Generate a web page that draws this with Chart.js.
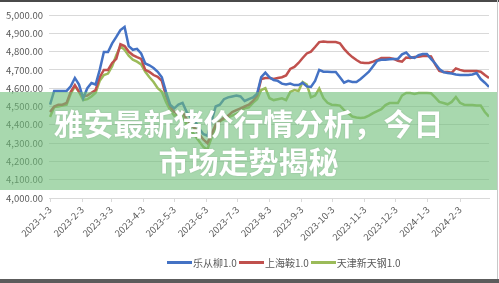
<!DOCTYPE html>
<html>
<head>
<meta charset="utf-8">
<script src="https://cdn.jsdelivr.net/npm/chart.js@4/dist/chart.umd.min.js"></script>
<style>
  html, body { margin: 0; padding: 0; background: #fff; }
  #wrap { position: relative; width: 499px; height: 283px; overflow: hidden; }
  #chart { position: absolute; left: 0; top: 0; }
  .frame-top { position: absolute; left: 0; top: 0; width: 499px; height: 2px; background: #4a4a4a; }
  .frame-bottom { position: absolute; left: 0; top: 279px; width: 499px; height: 4px; background: #5c5c5c; }
  .frame-right { position: absolute; left: 497px; top: 0; width: 1px; height: 283px; background: #c8c8c8; }
  #legend { position: absolute; left: 167px; top: 255px; height: 14px; display: flex; align-items: center;
    font: 10px "Noto Sans CJK SC", sans-serif; color: #595959; white-space: nowrap; }
  #legend .line { display: inline-block; width: 25px; height: 3px; margin-right: 1px; }
  #legend .txt { margin-right: 2px; }
  #banner { position: absolute; left: 0; top: 92px; width: 497px; height: 98px;
    background: rgba(110, 190, 120, 0.6); display: flex; flex-direction: column; align-items: center; justify-content: center;
    font: bold 30px "Noto Sans CJK SC", sans-serif; color: #fff; line-height: 38px; text-shadow: 0 0 2px rgba(0,0,0,0.15); }
</style>
</head>
<body>
<div id="wrap">
  <canvas id="chart" width="499" height="283"></canvas>
  <div id="legend"></div>
  <div id="banner"><div>雅安最新猪价行情分析，今日</div><div>市场走势揭秘</div></div>
  <div class="frame-top"></div>
  <div class="frame-right"></div>
  <div class="frame-bottom"></div>
</div>
<script>
// days counted from 2023-1-3
const days = [0,4,8,12,16,20,24,28,32,36,40,44,48,52,56,60,64,68,72,76,80,84,88,92,96,100,
  104,108,112,116,120,124,128,132,136,140,144,148,152,156,160,164,168,172,176,180,184,188,192,196,200,
  204,208,212,216,220,224,228,232,236,240,244,248,252,256,260,264,268,272,276,280,284,288,292,296,300,
  304,308,312,316,320,324,328,332,336,340,344,348,352,356,360,364,368,372,376,380,384,388,392,396,400,
  404,408,412,416,420,424];

const tickDays = [0,31,59,90,120,151,181,212,243,273,304,334,365,396];
const tickLabels = ['2023-1-3','2023-2-3','2023-3-3','2023-4-3','2023-5-3','2023-6-3','2023-7-3',
  '2023-8-3','2023-9-3','2023-10-3','2023-11-3','2023-12-3','2024-1-3','2024-2-3'];

const seriesNames = ['乐从柳1.0', '上海鞍1.0', '天津新天钢1.0'];

const lecong = [4510,4585,4585,4585,4585,4610,4656,4620,4545,4600,4628,4620,4700,4798,4798,4845,4880,4918,4935,4830,
  4810,4815,4790,4735,4725,4710,4690,4660,4580,4510,4490,4510,4520,4470,4440,4420,4380,4350,4340,4420,
  4500,4510,4540,4550,4555,4560,4555,4530,4540,4550,4570,4660,4685,4660,4645,4640,4625,4620,4625,4617,
  4617,4630,4610,4607,4640,4700,4690,4690,4689,4689,4660,4630,4640,4634,4634,4650,4670,4690,4720,4750,
  4755,4755,4758,4760,4760,4785,4795,4770,4765,4780,4787,4787,4760,4735,4705,4688,4683,4680,4675,4672,
  4672,4672,4675,4683,4650,4630,4607];

const shanghai = [4470,4500,4510,4510,4520,4580,4617,4580,4555,4560,4575,4590,4660,4700,4700,4738,4760,4840,4830,4800,
  4781,4770,4760,4700,4689,4672,4662,4640,4560,4500,4470,4460,4470,4430,4400,4380,4350,4320,4300,4350,
  4400,4420,4440,4450,4470,4480,4490,4500,4510,4530,4560,4650,4656,4656,4650,4656,4660,4670,4705,4716,
  4738,4765,4790,4800,4825,4852,4855,4852,4852,4852,4845,4815,4790,4770,4754,4740,4738,4738,4745,4754,
  4765,4765,4765,4760,4750,4745,4768,4765,4770,4772,4776,4776,4774,4730,4695,4689,4689,4685,4708,4700,
  4694,4694,4694,4694,4690,4672,4656];

const tianjin = [4443,4497,4500,4505,4510,4570,4610,4580,4535,4540,4555,4575,4640,4672,4680,4720,4780,4830,4810,4778,
  4756,4745,4730,4690,4660,4634,4600,4580,4525,4480,4450,4460,4450,4400,4370,4340,4310,4280,4265,4330,
  4390,4420,4430,4440,4450,4460,4470,4490,4495,4520,4540,4590,4600,4545,4535,4540,4545,4535,4580,4590,
  4585,4634,4620,4550,4560,4598,4546,4520,4510,4508,4505,4480,4464,4445,4440,4437,4440,4450,4464,4475,
  4485,4508,4519,4519,4519,4560,4574,4574,4568,4574,4574,4574,4572,4550,4525,4519,4512,4525,4552,4520,
  4510,4508,4508,4506,4505,4470,4445];

const colors = ['#4472C4', '#C0504D', '#9BBB59'];
const allSeries = [lecong, shanghai, tianjin];

const datasets = allSeries.map(function(vals, i) {
  return {
    label: seriesNames[i],
    data: vals.map(function(v, j) { return { x: days[j], y: v }; }),
    borderColor: colors[i],
    backgroundColor: colors[i],
    borderWidth: 2.5,
    pointRadius: 0,
    tension: 0
  };
});

const ctx = document.getElementById('chart').getContext('2d');
const chart = new Chart(ctx, {
  type: 'line',
  data: { datasets: datasets },
  options: {
    responsive: false,
    animation: false,
    layout: { padding: { top: 15, right: 10, left: 0, bottom: 0 } },
    plugins: { legend: { display: false }, tooltip: { enabled: false } },
    scales: {
      x: {
        type: 'linear',
        min: -1,
        max: 424,
        afterBuildTicks: function(scale) {
          scale.ticks = tickDays.map(function(d) { return { value: d }; });
        },
        afterFit: function(scale) { scale.height = 85; },
        ticks: {
          autoSkip: false,
          minRotation: 45,
          maxRotation: 45,
          padding: 2,
          color: '#595959',
          font: { family: 'Noto Sans CJK SC', size: 9.5 },
          callback: function(value, index) { return tickLabels[index]; }
        },
        grid: { drawOnChartArea: false, drawTicks: true, tickLength: 4, color: '#d9d9d9' },
        border: { color: '#d9d9d9' }
      },
      y: {
        min: 4000,
        max: 5000,
        afterFit: function(scale) { scale.width = 49; },
        ticks: {
          stepSize: 100,
          padding: 6,
          color: '#595959',
          font: { family: 'Noto Sans CJK SC', size: 9.5 },
          callback: function(v) {
            return v.toLocaleString('en-US', { minimumFractionDigits: 2, maximumFractionDigits: 2 });
          }
        },
        grid: { color: '#d9d9d9', drawTicks: false },
        border: { display: false }
      }
    }
  }
});

// legend built from the datasets
const legendEl = document.getElementById('legend');
chart.data.datasets.forEach(function(ds) {
  const line = document.createElement('span');
  line.className = 'line';
  line.style.background = ds.borderColor;
  const txt = document.createElement('span');
  txt.className = 'txt';
  txt.textContent = ds.label;
  legendEl.appendChild(line);
  legendEl.appendChild(txt);
});
</script>
</body>
</html>
